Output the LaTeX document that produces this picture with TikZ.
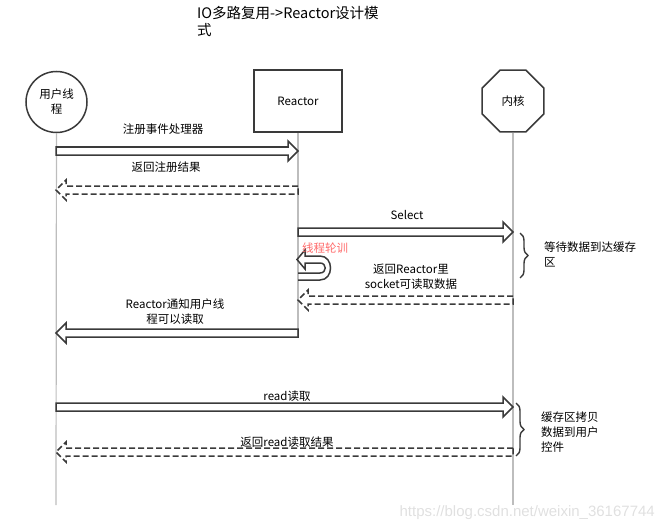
\documentclass[tikz,border=0pt]{standalone}
\usepackage{fontspec}
\setmainfont{Noto Sans CJK SC}
\newfontfamily\wmfont{Liberation Sans}
\usepackage{xcolor}
\usetikzlibrary{shapes.geometric, decorations.pathreplacing, calc, positioning}
\definecolor{linegray}{HTML}{3A3A3A}
\definecolor{lifegray}{HTML}{BDBDBD}
\definecolor{pollred}{HTML}{FF6B6B}
\tikzset{
    actor/.style={
        draw=linegray,
        line width=1.5pt,
        align=center,
        inner sep=0pt,
        font=\fontsize{11.5}{15}\selectfont,
    },
    lifeline/.style={
        draw=lifegray,
        line width=1.2pt,
    },
    msg/.style={
        font=\fontsize{11.5}{15}\selectfont,
        align=center,
        inner sep=0pt,
    },
    call/.style={
        draw=linegray,
        line width=1.5pt,
        to path={let \p1=(\tikztostart), \p2=(\tikztotarget),
            \p3=($(\tikztotarget)!10pt!(\tikztostart)$) in
            (\x1,\y1+4pt) -- (\x3,\y1+4pt) -- (\x3,\y1+10pt) -- (\x2,\y2)
            -- (\x3,\y1-10pt) -- (\x3,\y1-4pt) -- (\x1,\y1-4pt) -- cycle},
    },
    reply/.style={
        call,
        dash pattern=on 6pt off 3pt,
    },
    wait/.style={
        draw=linegray,
        line width=1.4pt,
        decorate,
        decoration={brace, amplitude=8pt},
    },
}

\begin{document}
\begin{tikzpicture}[x=1pt, y=-1pt]
    \useasboundingbox (0,0) rectangle (661,532);

    % title
    \node[anchor=north west, align=left, inner sep=0pt,
          font=\fontsize{14.5}{17}\selectfont] (title) at (197,6)
          {IO多路复用->Reactor设计模\\式};

    % participants
    \node[actor, circle, minimum size=61pt] (usr) at (56.5,102) {用户线\\程};
    \node[actor, rectangle, line width=1.8pt, minimum width=88pt,
          minimum height=62pt] (rct) at (298,101) {Reactor};
    \node[actor, regular polygon, regular polygon sides=8,
          minimum size=67pt] (krn) at (513,101) {内核};

    % lifelines
    \coordinate (usr-end) at (56,505);
    \coordinate (rct-end) at (298,336);
    \coordinate (krn-end) at (513,505);
    \draw[lifeline] (usr) -- (usr-end);
    \draw[lifeline] (rct) -- (rct-end);
    \draw[lifeline] (krn) -- (krn-end);

    % points on the lifelines
    \coordinate (u1) at (56,151);  \coordinate (r1) at (298,151);
    \coordinate (u2) at (56,190);  \coordinate (r2) at (298,190);
    \coordinate (r3) at (298,232); \coordinate (k3) at (513,232);
    \coordinate (r4) at (298,300); \coordinate (k4) at (513,300);
    \coordinate (u5) at (56,333);  \coordinate (r5) at (298,333);
    \coordinate (u6) at (56,407);  \coordinate (k6) at (513,407);
    \coordinate (u7) at (56,452);  \coordinate (k7) at (513,452);

    % messages
    \draw[call] (u1) to (r1);
    \node[msg] (m1) at (163,129) {注册事件处理器};
    \draw[reply] (r2) to (u2);
    \node[msg] (m2) at (166,167) {返回注册结果};
    \draw[call] (r3) to (k3);
    \node[msg] (m3) at (407,215) {Select};
    \draw[reply] (k4) to (r4);
    \node[msg] (m4) at (411,277) {返回Reactor里\\socket可读取数据};
    \draw[call] (r5) to (u5);
    \node[msg] (m5) at (175,312) {Reactor通知用户线\\程可以读取};
    \draw[call] (u6) to (k6);
    \node[msg] (m6) at (287,396) {read读取};
    \draw[reply] (k7) to (u7);
    \node[msg] (m7) at (287,442) {返回read读取结果};

    % polling loop on the reactor
    \coordinate (lp) at (298,268);
    \begin{scope}[shift={(lp)}]
        \draw[draw=linegray, line width=1.5pt]
            (0,12) -- (22,12) .. controls (36,12) and (36,-12) .. (22,-12)
            -- (7,-12) -- (7,-18) -- (-1,-8.5) -- (7,1) -- (7,-5)
            -- (22,-5) .. controls (29,-5) and (29,5) .. (22,5) -- (0,5);
    \end{scope}
    \node[msg, anchor=west, text=pollred] (poll) at (302,248) {线程轮训};

    % waiting in the kernel
    \coordinate (w1a) at (520,233); \coordinate (w1b) at (520,278);
    \draw[wait] (w1a) -- (w1b);
    \node[msg, anchor=west, align=left] (n1) at (544,254.5) {等待数据到达缓存\\区};
    \coordinate (w2a) at (516,403); \coordinate (w2b) at (516,456);
    \draw[wait] (w2a) -- (w2b);
    \node[msg, anchor=west, align=left] (n2) at (541,432) {缓存区拷贝\\数据到用户\\控件};

    % watermark
    \node[anchor=east, inner sep=0pt, text=black!12,
          font=\wmfont\fontsize{15}{15}\selectfont] (wm) at (655,513)
          {https://blog.csdn.net/weixin\_36167744};
\end{tikzpicture}
\end{document}
